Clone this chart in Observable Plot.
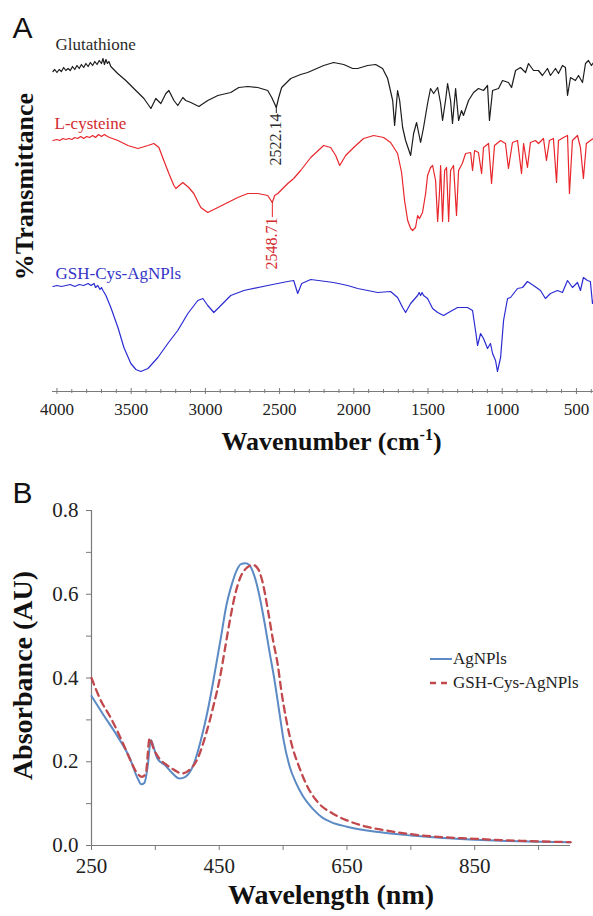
<!DOCTYPE html>
<html><head><meta charset="utf-8">
<script src="https://cdn.jsdelivr.net/npm/d3@7"></script>
<script src="https://cdn.jsdelivr.net/npm/@observablehq/plot@0.6"></script>
<style>
html,body{margin:0;padding:0;background:#fff;}
#wrap{position:relative;width:593px;height:916px;overflow:hidden;background:#fff;}
#panelA{position:absolute;left:0;top:0;}
#panelB{position:absolute;left:0;top:470px;}
#legend{position:absolute;left:430px;top:647px;font:17px "Liberation Serif",serif;color:#222;line-height:24px;}
#legend .row{display:flex;align-items:center;white-space:nowrap;height:24px;}
#legend svg{width:23px;height:10px;display:block;}
#wrap g[aria-label$="tick label"], #wrap g[aria-label$="tick label"] text{font-family:"Liberation Serif","Times New Roman",serif !important;font-variant:normal !important;}
</style></head><body>
<div id="wrap"><div id="panelA"></div><div id="panelB"></div><div id="legend"></div></div>
<script>
// ---------- Panel A: FTIR spectra (offset %T, arbitrary units) ----------
const ftirTickLabels = [4000, 3500, 3000, 2500, 2000, 1500, 1000, 500];

const glutathioneWn = [4027,4015,4000,3985,3970,3955,3940,3925,3910,3895,3880,3865,3850,3835,3820,3805,3790,3775,3760,3745,3730,3715,3700,3690,3680,3670,3660,3650,3637,
 3591,3536,3482,3414,3367,3334,3300,3266,3246,3212,3186,3152,3132,3098,3044,2984,2916,2829,2775,2714,2647,2580,2553,2522,2506,2486,2425,2358,2311,2203,2136,2068,2008,1974,1907,1853,1806,1772,1738,1725,1705,1691,1671,1651,1617,1597,1577,1550,1530,1503,1483,1462,1435,1415,1402,1382,1368,1348,1335,1314,1294,1274,1261,1227,1193,1160,1126,1099,1086,1065,1025,998,958,937,910,877,843,823,789,756,729,695,675,641,621,594,574,560,540,507,486,459,439,419,399,385];
const glutathioneT = [320,322,319,322,320,324,321,323,321,325,322,326,323,327,324,328,325,329,326,330,327,331,328,333,327,332,328,330,325,
 318,311,303,293,283,293,288,298,301,291,286,294,291,289,285,291,296,299,304,305,304,301,294,284,294,304,313,317,319,326,329,327,323,323,326,327,323,313,291,266,301,291,264,251,236,258,269,249,264,288,303,298,304,288,271,291,308,291,268,303,271,281,276,291,299,303,301,306,271,301,303,311,309,304,321,324,319,328,321,321,316,323,316,323,318,326,324,296,314,311,316,309,328,331,326,329];

const cysteineWn = [4027,4000,3980,3960,3940,3920,3900,3880,3860,3840,3820,3800,3780,3760,3740,3720,3700,3680,3660,3645,
 3589,3522,3455,3387,3347,3313,3280,3246,3212,3199,3152,3112,3078,3031,2984,2916,2849,2782,2714,2647,2580,2549,2533,2512,2445,2405,2358,2290,2203,2156,2122,2095,2055,2001,1934,1866,1799,1752,1705,1678,1658,1637,1617,1604,1584,1570,1557,1537,1516,1503,1483,1469,1449,1435,1422,1415,1402,1388,1375,1361,1348,1328,1308,1294,1269,1247,1213,1200,1186,1160,1139,1126,1092,1072,1052,1011,978,958,931,897,870,856,830,810,776,756,722,702,682,655,634,621,587,560,547,527,493,473,453,433,406,385];
const cysteineT = [251,252,251,253,252,253,252,254,253,255,253,255,254,256,254,257,255,257,255,254,
 251,246,243,246,248,244,231,218,206,203,209,204,198,184,179,184,189,194,198,198,196,189,196,198,208,213,221,234,246,244,236,226,236,244,253,256,254,249,238,219,191,171,163,161,164,176,173,179,198,216,224,226,211,170,201,226,170,221,224,170,221,226,176,221,228,238,239,221,241,239,218,244,248,208,246,251,248,223,249,251,218,248,224,249,251,248,253,231,251,253,209,251,254,256,198,251,256,244,213,248,251,253];

const gshWn = [4027,4000,3970,3940,3910,3880,3850,3820,3790,3770,3750,3740,3725,3710,3700,3690,3670,3637,3589,3549,3502,3468,3435,3387,3320,3253,3186,3118,3051,3017,2984,2943,2896,2829,2741,2580,2445,2405,2378,2351,2290,2136,2041,1974,1839,1752,1705,1671,1651,1617,1570,1560,1550,1540,1530,1503,1469,1435,1395,1361,1301,1234,1200,1180,1166,1146,1126,1099,1079,1065,1045,1032,1011,991,964,944,897,863,830,789,742,709,675,628,594,560,527,493,473,453,426,406,392,385];
const gshT = [105,106,105,106,107,105,107,106,108,106,108,104,106,102,104,101,96,84,64,44,28,22,20,23,34,48,61,78,91,93,86,79,86,96,101,106,110,111,98,108,112,109,106,103,99,100,94,84,79,88,96,99,96,99,96,93,83,79,76,79,84,84,81,61,46,58,53,43,48,38,31,20,34,71,93,94,103,104,110,106,101,93,98,101,99,111,104,109,101,114,111,110,88,91];

const ftirSeries = ["Glutathione", "L-cysteine", "GSH-Cys-AgNPls"];
const ftirLabelWn = [4010, 4016, 4010];
const ftirLabelT = [347, 268, 118];

const peakLabels = ["2522.14", "2548.71"];
const peakWn = [2522.14, 2548.71];
const peakSeries = ["Glutathione", "L-cysteine"];
const peakDipT = [284, 189];
const peakLabelT = [278, 174];

// ---------- Panel B: UV-vis ----------
const uvXTickLabels = [250, 450, 650, 850];
const uvYTickLabels = [0.0, 0.2, 0.4, 0.6, 0.8];
const uvSeries = ["AgNPls", "GSH-Cys-AgNPls"];

const agWl = [250,267,291,309,323,328,333,338,343,347,353,365,377,388,397,409,421,433,445,453,461,469,477,484,491,497,505,513,521,529,536,543,551,560,570,581,598,612,625,650,700,750,800,850,900,950,1000];
const agAbs = [0.357,0.316,0.26,0.212,0.158,0.146,0.15,0.19,0.252,0.236,0.208,0.192,0.172,0.16,0.164,0.19,0.25,0.33,0.43,0.50,0.572,0.62,0.656,0.672,0.674,0.67,0.644,0.596,0.532,0.46,0.40,0.33,0.25,0.19,0.15,0.118,0.085,0.066,0.056,0.045,0.032,0.024,0.018,0.014,0.011,0.009,0.008];

const gsWl = [250,264,279,297,312,320,329,335,341,347,356,368,380,391,403,415,430,442,451,459,467,475,483,491,498,503,511,518,526,534,542,547,555,563,575,587,604,628,650,680,715,767,850,925,1000];
const gsAbs = [0.40,0.348,0.308,0.252,0.2,0.176,0.164,0.172,0.256,0.232,0.208,0.192,0.18,0.172,0.18,0.204,0.27,0.34,0.40,0.47,0.54,0.60,0.64,0.66,0.668,0.67,0.66,0.628,0.564,0.492,0.428,0.372,0.30,0.244,0.188,0.144,0.104,0.076,0.06,0.045,0.035,0.024,0.016,0.011,0.008];

// ---------- styles ----------
const ftirColors = {"Glutathione": "#1c1c1c", "L-cysteine": "#e8262b", "GSH-Cys-AgNPls": "#2b2bd3"};
const ftirLabelColors = {"Glutathione": "#2a2a2a", "L-cysteine": "#d42a2e", "GSH-Cys-AgNPls": "#3434c8"};
const uvStyles = {
  "AgNPls": {stroke: "#5b8ac4", dash: null, width: 2},
  "GSH-Cys-AgNPls": {stroke: "#c1484c", dash: "7,5", width: 2.3}
};
const axisGray = "#7a7a7a";
const serif = '"Liberation Serif", "Times New Roman", serif';
const sans = '"Liberation Sans", Arial, sans-serif';

const rows = (wn, t) => wn.map((w, i) => ({x: w, y: t[i]}));
const ftirData = [rows(glutathioneWn, glutathioneT), rows(cysteineWn, cysteineT), rows(gshWn, gshT)];
const ftirLabels = ftirSeries.map((s, i) => ({s, x: ftirLabelWn[i], y: ftirLabelT[i]}));
const peaks = peakLabels.map((l, i) => ({l, x: peakWn[i], dip: peakDipT[i], top: peakLabelT[i], s: peakSeries[i]}));

const minorA = d3.range(400, 4001, 100);

const plotA = Plot.plot({
  width: 593, height: 470,
  marginLeft: 52, marginRight: 0, marginTop: 0, marginBottom: 79,
  x: {domain: [4030, 385], label: null},
  y: {domain: [0, 391], axis: null, label: null},
  color: {type: "identity"},
  style: {fontFamily: serif, color: "#222", background: "white"},
  marks: [
    Plot.ruleY([0], {stroke: axisGray, strokeWidth: 1}),
    Plot.ruleX(minorA, {y1: d => (d % 500 === 0 ? -3 : -2), y2: d => (d % 500 === 0 ? 3 : 2), stroke: axisGray}),
    Plot.axisX(ftirTickLabels, {tickSize: 0, tickPadding: 11, fontSize: 17, fontFamily: serif, fill: "#222", stroke: axisGray, tickFormat: d => String(d)}),
    ...ftirData.map((d, i) => Plot.line(d, {x: "x", y: "y", stroke: ftirColors[ftirSeries[i]], strokeWidth: 1.2})),
    Plot.ruleX(peaks, {x: "x", y1: "dip", y2: "top", stroke: d => ftirColors[d.s], strokeWidth: 1}),
    Plot.text(peaks, {x: "x", y: "top", text: "l", rotate: -90, textAnchor: "end", lineAnchor: "middle", fontSize: 16, fill: d => ftirLabelColors[d.s]}),
    Plot.text(ftirLabels, {x: "x", y: "y", text: "s", textAnchor: "start", lineAnchor: "middle", fontSize: 17, fill: d => ftirLabelColors[d.s]}),
    Plot.text(["A"], {text: d => d, frameAnchor: "top-left", dx: -40, dy: 37, textAnchor: "start", lineAnchor: "bottom", fontFamily: sans, fontSize: 30, fill: "#111"}),
    Plot.text(["%Transmittance"], {text: d => d, frameAnchor: "left", dx: -28, dy: -9.5, rotate: -90, textAnchor: "middle", lineAnchor: "middle", fontSize: 26, fontWeight: "bold", fill: "#111"}),
    Plot.text(["Wavenumber (cm-1)"], {text: d => d, frameAnchor: "bottom", dx: 8.5, dy: 58, textAnchor: "middle", lineAnchor: "bottom", fontSize: 26, fontWeight: "bold", fill: "#111"})
  ]
});
document.getElementById("panelA").appendChild(plotA);

// superscript for cm-1
d3.select(plotA).selectAll("text").filter(function () { return this.textContent === "Wavenumber (cm-1)"; })
  .each(function () {
    const t = d3.select(this);
    t.text("Wavenumber (cm");
    t.append("tspan").attr("dy", "-10").attr("font-size", "16").text("-1");
    t.append("tspan").attr("dy", "10").text(")");
  });

const uvXTicks = d3.range(250, 951, 100);
const uvYTicks = d3.range(0, 9).map(k => k / 10);
const uvData = [rows(agWl, agAbs), rows(gsWl, gsAbs)];

const plotB = Plot.plot({
  width: 593, height: 446,
  marginLeft: 91, marginRight: 23, marginTop: 40, marginBottom: 71,
  x: {domain: [250, 1000], label: null},
  y: {domain: [0, 0.8], label: null},
  style: {fontFamily: serif, color: "#222", background: "white"},
  marks: [
    Plot.ruleX([250], {y1: 0, y2: 0.8, stroke: axisGray, strokeWidth: 1.2}),
    Plot.ruleY([0], {stroke: axisGray, strokeWidth: 1.2}),
    Plot.axisY(uvYTicks, {tickSize: 5, tickPadding: 8, fontSize: 21, fontFamily: serif, stroke: axisGray, fill: "#222",
      tickFormat: d => (uvYTickLabels.some(v => Math.abs(v - d) < 1e-9) ? d.toFixed(1) : "")}),
    Plot.axisX(uvXTicks, {tickSize: 5, tickPadding: 8, fontSize: 21, fontFamily: serif, stroke: axisGray, fill: "#222",
      tickFormat: d => (uvXTickLabels.includes(d) ? String(d) : "")}),
    ...uvData.map((d, i) => {
      const st = uvStyles[uvSeries[i]];
      return Plot.line(d, {x: "x", y: "y", curve: "monotone-x", stroke: st.stroke, strokeWidth: st.width, strokeDasharray: st.dash || undefined});
    }),
    Plot.text(["B"], {text: d => d, frameAnchor: "top-left", dx: -79, dy: -8, textAnchor: "start", lineAnchor: "bottom", fontFamily: sans, fontSize: 30, fill: "#111"}),
    Plot.text(["Absorbance (AU)"], {text: d => d, frameAnchor: "left", dx: -68, dy: -2.5, rotate: -90, textAnchor: "middle", lineAnchor: "middle", fontSize: 28, fontWeight: "bold", fill: "#111"}),
    Plot.text(["Wavelength (nm)"], {text: d => d, frameAnchor: "bottom", dx: 0, dy: 58, textAnchor: "middle", lineAnchor: "bottom", fontSize: 28, fontWeight: "bold", fill: "#111"})
  ]
});
document.getElementById("panelB").appendChild(plotB);

// make sure tick labels use the serif face
d3.selectAll("#wrap svg g").filter(function () { return /tick label/.test(this.getAttribute("aria-label") || ""); })
  .attr("font-family", serif).style("font-family", serif).style("font-variant", "normal");

// legend
const legend = d3.select("#legend");
uvSeries.forEach(name => {
  const st = uvStyles[name];
  const row = legend.append("div").attr("class", "row");
  const sw = row.append("svg").attr("viewBox", "0 0 23 10");
  sw.append("line").attr("x1", 0).attr("x2", 22).attr("y1", 5).attr("y2", 5)
    .attr("stroke", st.stroke).attr("stroke-width", st.width)
    .attr("stroke-dasharray", st.dash ? "6,5" : null);
  row.append("span").text(name);
});
</script>
</body></html>
